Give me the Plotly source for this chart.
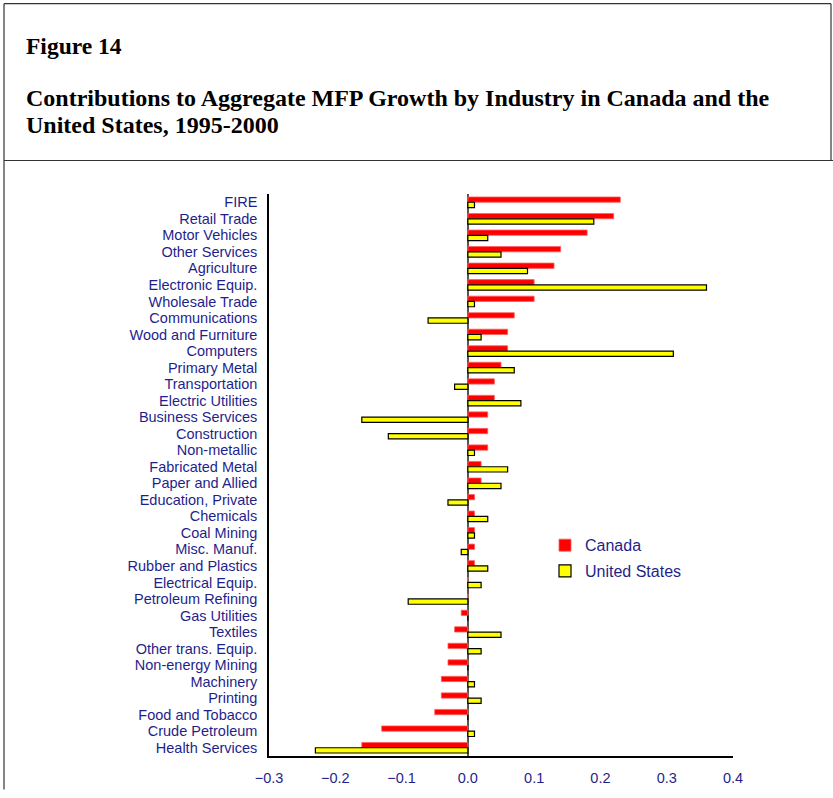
import plotly.graph_objects as go

industries = [
    "FIRE", "Retail Trade", "Motor Vehicles", "Other Services", "Agriculture",
    "Electronic Equip.", "Wholesale Trade", "Communications", "Wood and Furniture",
    "Computers", "Primary Metal", "Transportation", "Electric Utilities",
    "Business Services", "Construction", "Non-metallic", "Fabricated Metal",
    "Paper and Allied", "Education, Private", "Chemicals", "Coal Mining",
    "Misc. Manuf.", "Rubber and Plastics", "Electrical Equip.", "Petroleum Refining",
    "Gas Utilities", "Textiles", "Other trans. Equip.", "Non-energy Mining",
    "Machinery", "Printing", "Food and Tobacco", "Crude Petroleum", "Health Services",
]
canada = [
    0.23, 0.22, 0.18, 0.14, 0.13,
    0.10, 0.10, 0.07, 0.06,
    0.06, 0.05, 0.04, 0.04,
    0.03, 0.03, 0.03, 0.02,
    0.02, 0.01, 0.01, 0.01,
    0.01, 0.01, 0.0, 0.0,
    -0.01, -0.02, -0.03, -0.03,
    -0.04, -0.04, -0.05, -0.13, -0.16,
]
united_states = [
    0.01, 0.19, 0.03, 0.05, 0.09,
    0.36, 0.01, -0.06, 0.02,
    0.31, 0.07, -0.02, 0.08,
    -0.16, -0.12, 0.01, 0.06,
    0.05, -0.03, 0.03, 0.01,
    -0.01, 0.03, 0.02, -0.09,
    0.0, 0.05, 0.02, 0.0,
    0.01, 0.02, 0.0, 0.01, -0.23,
]
x_ticks = [-0.3, -0.2, -0.1, 0.0, 0.1, 0.2, 0.3, 0.4]

NAVY = "#1f1f8c"
W, H = 833, 798
L, R, T, B = 269, 100, 194, 34


def px_x(x):
    return (x - L) / (W - L - R)


def px_y(y):
    return (H - B - y) / (H - T - B)


fig = go.Figure()
fig.add_trace(go.Bar(
    y=industries, x=canada, orientation="h", name="Canada",
    legendgroup="ca",
    marker=dict(color="#ff0000", line=dict(color="#ff6060", width=0.8)),
))
fig.add_trace(go.Bar(
    y=industries, x=united_states, orientation="h", name="United States",
    legendgroup="us",
    marker=dict(color="#ffff00", line=dict(color="black", width=1.2)),
))

fig.update_layout(
    width=W, height=H,
    margin=dict(l=L, r=R, t=T, b=B, pad=0),
    paper_bgcolor="white", plot_bgcolor="white",
    barmode="group", bargap=0.36, bargroupgap=0,
    font=dict(family="Liberation Sans, Arial", size=14.5, color=NAVY),
    legend=dict(
        x=px_x(545), y=px_y(533), xanchor="left", yanchor="top",
        font=dict(size=16, color=NAVY), traceorder="grouped",
        tracegroupgap=2, bgcolor="rgba(0,0,0,0)",
    ),
)
fig.update_xaxes(
    range=[-0.3, 0.4], tickvals=x_ticks, tickformat=".1f",
    showgrid=False, showline=True, linecolor="black", linewidth=1.5,
    zeroline=True, zerolinecolor="#555555", zerolinewidth=2,
    ticks="", ticklabelstandoff=8,
)
fig.update_yaxes(
    autorange="reversed", showgrid=False, showline=True, linecolor="black",
    linewidth=1.5, ticks="", ticklabelstandoff=7,
    tickmode="array", tickvals=industries, ticktext=industries,
    tickfont=dict(size=14.5),
)

# heading texts
fig.add_annotation(text="<b>Figure 14</b>", xref="paper", yref="paper",
                   x=px_x(24), y=px_y(44), xanchor="left", yanchor="middle",
                   showarrow=False,
                   font=dict(family="Liberation Serif, Times New Roman", size=23.5, color="black"))
title_font = dict(family="Liberation Serif, Times New Roman", size=24, color="black")
fig.add_annotation(text="<b>Contributions to Aggregate MFP Growth by Industry in Canada and the</b>",
                   xref="paper", yref="paper", x=px_x(24), y=px_y(97),
                   xanchor="left", yanchor="middle", showarrow=False, font=title_font)
fig.add_annotation(text="<b>United States, 1995-2000</b>", xref="paper", yref="paper",
                   x=px_x(24), y=px_y(124), xanchor="left", yanchor="middle",
                   showarrow=False, font=title_font)

# frame around the figure
frame = dict(color="#333333", width=1.2)
fig.add_shape(type="line", xref="paper", yref="paper", x0=px_x(4), x1=px_x(4),
              y0=px_y(1), y1=px_y(H), line=frame)
fig.add_shape(type="line", xref="paper", yref="paper", x0=px_x(4), x1=px_x(831),
              y0=px_y(1), y1=px_y(1), line=frame)
fig.add_shape(type="line", xref="paper", yref="paper", x0=px_x(831), x1=px_x(831),
              y0=px_y(1), y1=px_y(160), line=frame)
fig.add_shape(type="line", xref="paper", yref="paper", x0=px_x(4), x1=px_x(W),
              y0=px_y(160), y1=px_y(160), line=frame)

fig.write_html("out.html", config={"displayModeBar": False},
               post_script="document.body.style.margin='0';")
